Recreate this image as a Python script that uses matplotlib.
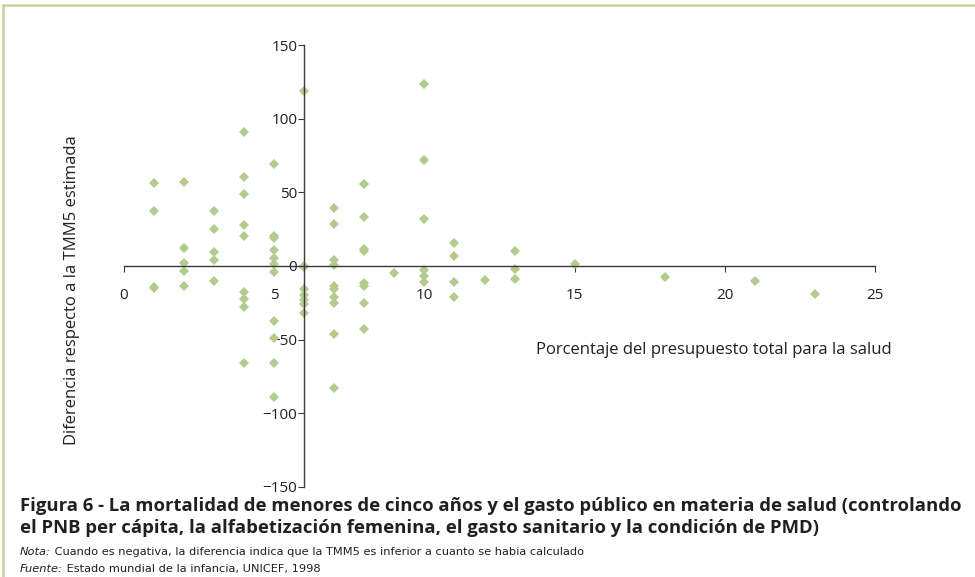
import matplotlib.pyplot as plt
from matplotlib.lines import Line2D

# health budget share (%) and difference from the estimated U5MR
pct_budget = [1, 1, 1, 1,
              2, 2, 2, 2, 2,
              3, 3, 3, 3, 3,
              4, 4, 4, 4, 4, 4, 4, 4, 4,
              5, 5, 5, 5, 5, 5, 5, 5, 5, 5, 5,
              6, 6, 6, 6, 6, 6, 6, 6,
              7, 7, 7, 7, 7, 7, 7, 7, 7, 7,
              8, 8, 8, 8, 8, 8, 8, 8,
              9,
              10, 10, 10, 10, 10, 10,
              11, 11, 11, 11,
              12,
              13, 13, 13,
              15, 18, 21, 23]
diff_u5mr = [56.5, 37.3, -14, -15,
             57.2, 12.4, 1.8, -3.2, -13.6,
             37.3, 24.9, 9.7, 4.1, -10,
             90.7, 60.6, 48.9, 28.1, 20.1, -17.6, -22.6, -28, -66,
             69, 20.5, 19, 10.9, 5.5, 1.3, -4.4, -37.3, -48.6, -66, -88.7,
             118.8, 0, -1, -15.8, -19.7, -23, -25.8, -32.1,
             39.6, 28.7, 4.1, 0.7, -13.6, -15.8, -20.8, -24.9, -46.4, -83,
             55.9, 33.3, 11.5, 10, -11.3, -13.6, -24.9, -42.8,
             -5,
             123.3, 72.2, 31.9, -2.7, -6.8, -10.6,
             15.4, 7, -11, -21,
             -9.5,
             10.2, -2.3, -8.6,
             1.4, -7.7, -10.2, -19.2]

x_ticks = [0, 5, 10, 15, 20, 25]
y_ticks = [-150, -100, -50, 0, 50, 100, 150]

plt.rcParams['font.family'] = ['Open Sans', 'DejaVu Sans']
text_color = '#231f20'
dot_color = '#b3cb8e'

fig = plt.figure(figsize=(9.75, 5.77), dpi=100)
ax = fig.add_axes([0.1272, 0.156, 0.7703, 0.766])

ax.plot(pct_budget, diff_u5mr, linestyle='none', marker='D', markersize=5.2,
        color=dot_color, markeredgewidth=0)

ax.set_xlim(0, 25)
ax.set_ylim(-150, 150)
ax.spines['left'].set_position(('data', 6))
ax.spines['bottom'].set_position(('data', 0))
ax.spines['top'].set_visible(False)
ax.spines['right'].set_visible(False)
for s in ('left', 'bottom'):
    ax.spines[s].set_color('#3a3a3a')
    ax.spines[s].set_linewidth(1.0)

ax.set_xticks(x_ticks)
ax.set_yticks(y_ticks)
ax.tick_params(axis='x', direction='out', length=4, pad=12, labelsize=11,
               colors='#3a3a3a', labelcolor=text_color)
ax.tick_params(axis='y', direction='out', length=4, pad=1, labelsize=11,
               colors='#3a3a3a', labelcolor=text_color)

fig.text(892 / 975, 1 - 350 / 577, 'Porcentaje del presupuesto total para la salud',
         ha='right', va='center', fontsize=12, color=text_color)
fig.text(72 / 975, 1 - 290 / 577, 'Diferencia respecto a la TMM5 estimada',
         ha='center', va='center', rotation=90, fontsize=12, color=text_color)

# caption block
fig.text(20 / 975, 1 - 506 / 577,
         'Figura 6 - La mortalidad de menores de cinco años y el gasto público en materia de salud (controlando',
         ha='left', va='center', fontsize=13.3, fontweight='bold', color=text_color)
fig.text(20 / 975, 1 - 528 / 577,
         'el PNB per cápita, la alfabetización femenina, el gasto sanitario y la condición de PMD)',
         ha='left', va='center', fontsize=13.3, fontweight='bold', color=text_color)

narrow = ['Liberation Sans Narrow', 'DejaVu Sans']
renderer = fig.canvas.get_renderer()
for label, rest, ypix in [('Nota:', ' Cuando es negativa, la diferencia indica que la TMM5 es inferior a cuanto se habia calculado', 555),
                          ('Fuente:', ' Estado mundial de la infancia, UNICEF, 1998', 572)]:
    t = fig.text(20 / 975, 1 - ypix / 577, label, ha='left', va='baseline',
                 fontsize=8.2, style='italic', family=narrow, color=text_color)
    w = t.get_window_extent(renderer).width
    fig.text((20 + w) / 975, 1 - ypix / 577, rest, ha='left', va='baseline',
             fontsize=8.2, family=narrow, color=text_color)

# frame lines on top and left edges
border = '#c3d69b'
fig.add_artist(Line2D([3 / 975, 1], [1 - 5 / 577, 1 - 5 / 577],
                      transform=fig.transFigure, color=border, linewidth=1.8))
fig.add_artist(Line2D([3 / 975, 3 / 975], [0, 1 - 5 / 577],
                      transform=fig.transFigure, color=border, linewidth=1.8))

fig.savefig('out.png', dpi=100)
